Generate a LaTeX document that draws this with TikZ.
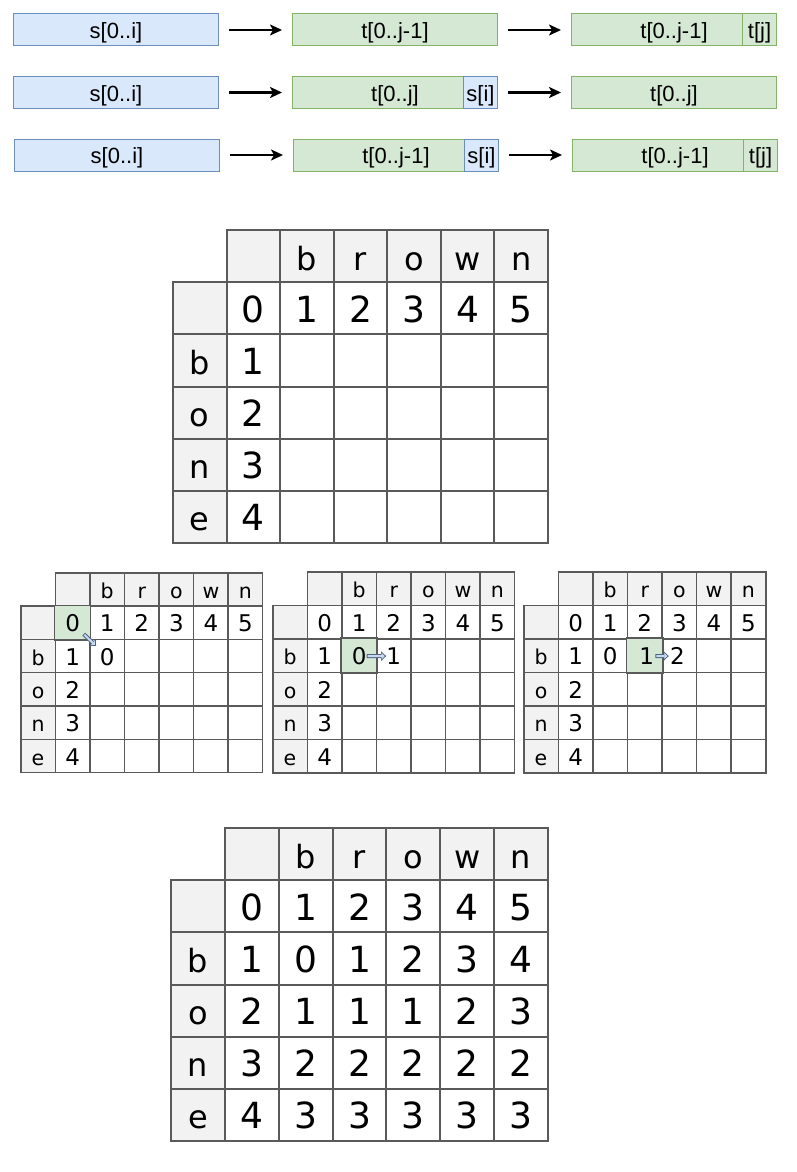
\documentclass[tikz,border=0pt]{standalone}
\usepackage{fontspec}
\setmainfont{DejaVu Sans}
\newfontfamily\boxfont{Liberation Sans}
\usetikzlibrary{arrows.meta}

\definecolor{blueFill}{HTML}{DAE8FC}
\definecolor{blueLine}{HTML}{6C8EBF}
\definecolor{greenFill}{HTML}{D5E8D4}
\definecolor{greenLine}{HTML}{82B366}
\definecolor{headFill}{HTML}{F2F2F2}
\definecolor{gridLine}{HTML}{5A5A5A}
\definecolor{arrowFill}{HTML}{C9DAF0}
\definecolor{arrowLine}{HTML}{4D6582}

\tikzset{
  strbox/.style={line width=1pt, minimum height=32pt, inner sep=0pt, text height=17pt, text depth=0pt, font=\boxfont\fontsize{22}{22}\selectfont},
  sbox/.style={strbox, draw=blueLine, fill=blueFill},
  tbox/.style={strbox, draw=greenLine, fill=greenFill},
  flow/.style={line width=2.5pt, -{Stealth[length=12pt,width=11pt,inset=3pt]}, shorten <=10pt, shorten >=10pt},
  cell/.style={draw=gridLine, fill=white, inner sep=0pt, anchor=north west},
  headcell/.style={cell, fill=headFill},
  greencell/.style={draw=gridLine, fill=greenFill},
  bignum/.style={font=\fontsize{36}{36}\selectfont, inner sep=0pt, anchor=base, yshift=-14pt},
  bigchar/.style={font=\fontsize{32}{32}\selectfont, inner sep=0pt, anchor=base, yshift=-14pt},
  smallnum/.style={font=\fontsize{23}{23}\selectfont, inner sep=0pt, anchor=base, yshift=-9pt},
  smallchar/.style={font=\fontsize{20.5}{20.5}\selectfont, inner sep=0pt, anchor=base, yshift=-9pt},
  flexout/.style={draw=arrowLine, line width=4pt, -{Triangle[length=5pt,width=9pt]}},
  flexin/.style={draw=arrowFill, line width=2pt, -{Triangle[length=3pt,width=6pt]}},
}

% empty table: name, x, y, cell width, cell height, line width
\newcommand{\dpgrid}[6]{%
  \begin{scope}[shift={(#2,#3)}, every node/.append style={minimum width=#4pt, minimum height=#5pt, line width=#6pt}]
    \foreach \r in {1,...,5}
      \foreach \c in {1,...,6}
        \node[cell] (#1-\r-\c) at ({\c*#4},{\r*#5}) {};
    \foreach \c in {1,...,6}
      \node[headcell] (#1-0-\c) at ({\c*#4},0) {};
    \foreach \r in {1,...,5}
      \node[headcell] (#1-\r-0) at (0,{\r*#5}) {};
  \end{scope}
}

% words and first row / column: name, number style, letter style
\newcommand{\dplabels}[3]{%
  \foreach \l [count=\c from 2] in {b,r,o,w,n}
    \node[#3] (#1-0-\c-v) at (#1-0-\c) {\l};
  \foreach \d [count=\c] in {0,...,5}
    \node[#2] (#1-1-\c-v) at (#1-1-\c) {\d};
  \foreach \l [count=\r from 2] in {b,o,n,e}
    \node[#3] (#1-\r-0-v) at (#1-\r-0) {\l};
  \foreach \d [count=\r from 2] in {1,...,4}
    \node[#2] (#1-\r-1-v) at (#1-\r-1) {\d};
}

\begin{document}
\begin{tikzpicture}[x=1pt, y=-1pt]
  \useasboundingbox (0,0) rectangle (796,1172);

  % the three cases
  \node[sbox, minimum width=205pt, anchor=west] (s1) at (13,30) {s[0..i]};
  \node[tbox, minimum width=205pt, anchor=west] (t1) at (292,30) {t[0..j-1]};
  \node[tbox, minimum width=205pt, anchor=west] (u1) at (571,30) {t[0..j-1]};
  \node[tbox, minimum width=34pt, anchor=east] (u1j) at (u1.east) {t[j]};
  \draw[flow] (s1) -- (t1);
  \draw[flow] (t1) -- (u1);

  \node[sbox, minimum width=205pt, anchor=west] (s2) at (13,92.5) {s[0..i]};
  \node[tbox, minimum width=205pt, anchor=west] (t2) at (292,92.5) {t[0..j]};
  \node[sbox, minimum width=34pt, anchor=east] (t2s) at (t2.east) {s[i]};
  \node[tbox, minimum width=205pt, anchor=west] (u2) at (571,92.5) {t[0..j]};
  \draw[flow] (s2) -- (t2);
  \draw[flow] (t2s) -- (u2);

  \node[sbox, minimum width=205pt, anchor=west] (s3) at (14,155) {s[0..i]};
  \node[tbox, minimum width=205pt, anchor=west] (t3) at (293,155) {t[0..j-1]};
  \node[sbox, minimum width=34pt, anchor=east] (t3s) at (t3.east) {s[i]};
  \node[tbox, minimum width=205pt, anchor=west] (u3) at (572,155) {t[0..j-1]};
  \node[tbox, minimum width=34pt, anchor=east] (u3j) at (u3.east) {t[j]};
  \draw[flow] (s3) -- (t3);
  \draw[flow] (t3s) -- (u3);

  % start table
  \dpgrid{dpA}{172}{229}{53.57}{52.17}{2}
  \dplabels{dpA}{bignum}{bigchar}

  % first steps
  \dpgrid{dpB}{20}{572}{34.57}{33.33}{1.5}
  \draw[greencell, line width=1.5pt] (dpB-1-1.north west) rectangle (dpB-1-1.south east);
  \dplabels{dpB}{smallnum}{smallchar}
  \node[smallnum] (dpB-2-2-v) at (dpB-2-2) {0};
  \draw[flexout, shorten <=5pt, shorten >=5pt] (dpB-1-1-v) -- (dpB-2-2-v);
  \draw[flexin, shorten <=6pt, shorten >=6.5pt] (dpB-1-1-v) -- (dpB-2-2-v);

  \dpgrid{dpC}{272}{571}{34.57}{33.5}{1.5}
  \draw[greencell, line width=1.5pt] (dpC-2-2.north west) rectangle (dpC-2-2.south east);
  \dplabels{dpC}{smallnum}{smallchar}
  \node[smallnum] (dpC-2-2-v) at (dpC-2-2) {0};
  \node[smallnum] (dpC-2-3-v) at (dpC-2-3) {1};
  \draw[flexout] (dpC-2-2-v) -- (dpC-2-3-v);
  \draw[flexin, shorten <=1pt, shorten >=1.5pt] (dpC-2-2-v) -- (dpC-2-3-v);

  \dpgrid{dpD}{523}{571}{34.57}{33.5}{1.5}
  \draw[greencell, line width=1.5pt] (dpD-2-3.north west) rectangle (dpD-2-3.south east);
  \dplabels{dpD}{smallnum}{smallchar}
  \node[smallnum] (dpD-2-2-v) at (dpD-2-2) {0};
  \node[smallnum, xshift=2pt] (dpD-2-3-v) at (dpD-2-3) {1};
  \node[smallnum, xshift=-2pt] (dpD-2-4-v) at (dpD-2-4) {2};
  \draw[flexout, shorten <=1pt, shorten >=1pt] (dpD-2-3-v) -- (dpD-2-4-v);
  \draw[flexin, shorten <=2pt, shorten >=2.5pt] (dpD-2-3-v) -- (dpD-2-4-v);

  % filled table
  \dpgrid{dpE}{170}{827}{53.86}{52.17}{2}
  \dplabels{dpE}{bignum}{bigchar}
  \foreach \vals [count=\r from 2] in {{0,1,2,3,4},{1,1,1,2,3},{2,2,2,2,2},{3,3,3,3,3}}
    \foreach \v [count=\c from 2] in \vals
      \node[bignum] (dpE-\r-\c-v) at (dpE-\r-\c) {\v};
\end{tikzpicture}
\end{document}
